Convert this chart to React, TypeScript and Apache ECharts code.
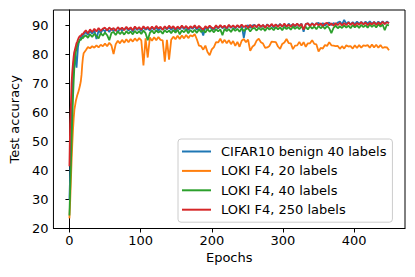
import React, { useEffect, useRef } from "react";
import * as echarts from "echarts";

const epochs = [
  0, 1, 2, 3, 4, 5, 6, 7, 8, 9, 10, 11, 12, 13, 14, 15, 16, 17, 18, 19, 20,
  23, 26, 29, 32, 35, 38, 41, 44, 47, 50,
  53, 56, 59, 62, 65, 68, 71, 74, 77, 80,
  83, 86, 89, 92, 95, 98, 101, 104, 107, 110,
  113, 116, 119, 122, 125, 128, 131, 134, 137, 140,
  143, 146, 149, 152, 155, 158, 161, 164, 167, 170,
  173, 176, 179, 182, 185, 188, 191, 194, 197, 200,
  203, 206, 209, 212, 215, 218, 221, 224, 227, 230,
  233, 236, 239, 242, 245, 248, 251, 254, 257, 260,
  263, 266, 269, 272, 275, 278, 281, 284, 287, 290,
  293, 296, 299, 302, 305, 308, 311, 314, 317, 320,
  323, 326, 329, 332, 335, 338, 341, 344, 347, 350,
  353, 356, 359, 362, 365, 368, 371, 374, 377, 380,
  383, 386, 389, 392, 395, 398, 401, 404, 407, 410,
  413, 416, 419, 422, 425, 428, 431, 434, 437, 440,
  443, 446, 449,
];

const cifarBenign40 = [
  30, 38, 47, 56, 64, 71, 77, 80.5, 81.5, 77, 75.5, 79, 82.5, 84, 84.8, 85.3, 85.8, 86.2, 86.0, 86.7, 87.0,
  87.8, 86.8, 88.2, 87.2, 88.5, 85.4, 88.3, 87.5, 88.7, 88.0,
  88.8, 87.8, 89.0, 88.1, 88.8, 87.6, 89.1, 88.2, 88.9, 89.2,
  88.3, 89.1, 88.0, 89.3, 88.5, 89.2, 88.1, 89.4, 88.6, 89.1,
  88.3, 89.4, 88.5, 89.5, 88.2, 89.3, 88.6, 89.6, 88.7, 89.4,
  88.5, 89.5, 88.3, 89.4, 88.7, 89.7, 88.8, 89.6, 88.4, 89.5,
  88.9, 89.8, 88.6, 89.6, 88.8, 86.6, 89.5, 88.7, 89.7, 88.9,
  88.7, 89.8, 89.0, 90.0, 89.1, 89.8, 88.8, 90.1, 89.2, 89.9,
  89.0, 90.0, 89.3, 90.2, 85.8, 89.8, 90.1, 89.2, 90.0, 90.3,
  89.4, 90.4, 89.5, 90.2, 89.3, 90.5, 89.6, 90.3, 89.4, 90.4,
  89.7, 90.6, 89.6, 90.4, 89.5, 90.7, 89.8, 90.5, 89.7, 90.6,
  89.8, 90.7, 87.9, 90.5, 90.8, 89.9, 90.9, 90.1, 90.7, 91.0,
  90.2, 90.9, 90.0, 90.8, 91.1, 90.2, 90.9, 90.3, 91.1, 91.4,
  90.4, 92.0, 90.6, 91.3, 90.4, 91.2, 90.5, 91.4, 90.6, 91.3,
  90.5, 91.4, 90.7, 91.5, 90.6, 91.3, 90.5, 91.4, 90.7, 91.5,
  90.6, 91.4, 90.9,
];

const loki20 = [
  23.5, 29, 36, 43, 49, 54, 58, 61, 62.5, 64, 65, 66, 66.7, 67.5, 68.5, 69.5, 70.8, 73, 76.5, 79, 80.5,
  81.5, 82.6, 82.2, 82.9, 82.4, 83.2, 82.5, 83.4, 82.9, 83.8,
  82.9, 84.1, 83.2, 80.2, 83.6, 84.8, 83.9, 85.1, 84.1, 85.3,
  84.3, 85.4, 84.5, 85.6, 84.7, 85.7, 84.9, 76.3, 85.6, 79.0,
  85.9, 84.8, 86.0, 85.0, 86.1, 85.1, 84.9, 77.6, 85.1, 78.3,
  85.1, 86.2, 85.3, 86.5, 85.4, 86.6, 85.6, 86.8, 85.7, 86.7,
  86.3, 87.1, 85.3, 83.1, 82.9, 81.7, 83.1, 80.9, 79.8, 81.8,
  82.6, 84.3, 84.2, 85.5, 84.0, 85.1, 83.9, 85.0, 83.6, 84.7,
  83.0, 84.4, 82.7, 84.8, 85.4, 84.3, 85.2, 81.3, 82.7, 83.3,
  84.8, 85.5, 84.3, 83.8, 82.3, 82.5, 83.0, 84.5, 84.4, 84.3,
  82.8, 82.0, 83.7, 84.2, 85.4, 84.0, 83.9, 81.9, 83.1, 83.2,
  84.4, 83.1, 84.3, 82.7, 83.9, 83.9, 85.0, 83.7, 83.5, 81.1,
  82.3, 82.1, 83.3, 83.0, 84.3, 83.2, 83.1, 82.9, 83.0, 82.0,
  82.9, 82.1, 83.2, 82.8, 82.9, 82.1, 83.2, 82.3, 83.3, 82.4,
  83.2, 83.0, 83.3, 82.4, 83.5, 82.5, 83.4, 82.4, 83.3, 82.3,
  82.6, 82.5, 81.5,
];

const loki40 = [
  24.5, 33, 41, 50, 58, 65, 71, 76, 79, 81, 82.3, 83.2, 84, 84.3, 84.8, 85.2, 85.0, 85.5, 85.9, 85.6, 86.1,
  86.7, 85.8, 87.0, 86.1, 87.2, 86.4, 85.6, 87.4, 86.5, 87.6,
  86.7, 85.0, 87.5, 87.8, 86.8, 88.0, 87.1, 87.9, 86.9, 88.1,
  87.2, 88.0, 87.0, 88.2, 87.3, 88.1, 87.1, 88.3, 87.4, 85.0,
  87.5, 88.3, 87.3, 88.4, 87.6, 88.2, 87.2, 88.5, 87.7, 88.3,
  87.4, 88.5, 87.6, 88.6, 87.0, 88.4, 87.7, 88.7, 87.4, 88.5,
  87.7, 88.6, 87.5, 88.7, 87.8, 88.5, 87.6, 88.8, 87.9, 88.6,
  87.7, 88.8, 88.0, 88.7, 86.7, 88.9, 88.1, 88.8, 87.8, 89.0,
  88.2, 88.9, 87.9, 89.1, 88.1, 88.8, 89.1, 88.0, 89.0, 89.2,
  88.3, 89.3, 88.5, 89.2, 88.2, 89.4, 88.6, 89.3, 88.4, 89.5,
  88.7, 89.4, 88.4, 89.6, 88.8, 89.5, 88.6, 89.7, 88.9, 89.6,
  88.8, 89.7, 88.9, 89.6, 88.7, 89.8, 89.0, 89.7, 88.8, 89.9,
  89.1, 89.8, 88.9, 89.9, 89.1, 87.4, 89.2, 90.0, 89.1, 89.8,
  89.2, 90.1, 89.3, 90.0, 89.1, 90.2, 89.4, 90.1, 89.2, 90.3,
  89.5, 90.2, 89.3, 90.4, 89.6, 90.3, 89.4, 90.5, 89.7, 90.4,
  88.4, 90.3, 90.1,
];

const loki250 = [
  41.5, 56, 62, 70, 74, 77, 79.5, 81, 82, 83, 84, 84.5, 85.2, 85.8, 86.2, 86.5, 86.3, 86.9, 87.2, 87.0, 87.5,
  88.4, 87.4, 88.7, 87.8, 88.9, 88.0, 89.2, 88.2, 89.0, 89.3,
  88.3, 89.4, 88.5, 89.2, 88.2, 89.5, 88.6, 89.3, 88.4, 89.6,
  88.7, 89.4, 88.4, 89.7, 88.8, 89.5, 88.6, 89.8, 88.9, 89.6,
  88.7, 89.7, 88.8, 89.9, 89.0, 89.6, 88.6, 89.8, 88.9, 90.0,
  89.1, 89.8, 88.8, 89.7, 89.0, 90.0, 89.1, 89.9, 88.9, 89.8,
  89.2, 90.1, 89.0, 89.9, 89.2, 88.7, 89.8, 89.1, 90.0, 89.3,
  89.0, 90.1, 89.2, 90.2, 89.3, 90.0, 89.1, 90.3, 89.4, 90.1,
  89.3, 90.2, 89.4, 90.4, 89.5, 90.1, 89.2, 90.3, 89.4, 90.2,
  89.5, 90.5, 89.6, 90.3, 89.3, 90.4, 89.6, 90.6, 89.7, 90.4,
  89.6, 90.5, 89.7, 90.7, 89.7, 90.4, 89.6, 90.6, 89.9, 90.7,
  89.8, 90.6, 88.6, 90.5, 90.8, 89.9, 90.7, 90.0, 90.9, 90.1,
  90.8, 89.9, 90.7, 91.0, 90.1, 90.8, 90.0, 90.9, 90.2, 91.0,
  90.1, 90.9, 90.2, 91.1, 90.3, 91.0, 90.1, 90.9, 90.3, 91.2,
  90.4, 91.1, 90.2, 91.0, 90.4, 91.2, 90.3, 91.1, 90.4, 91.3,
  90.5, 91.2, 90.8,
];

const seriesNames = [
  "CIFAR10 benign 40 labels",
  "LOKI F4, 20 labels",
  "LOKI F4, 40 labels",
  "LOKI F4, 250 labels",
];
const seriesValues = [cifarBenign40, loki20, loki40, loki250];
const seriesColors = ["#1f77b4", "#ff7f0e", "#2ca02c", "#d62728"];
const xTicks = [0, 100, 200, 300, 400];
const yTicks = [20, 30, 40, 50, 60, 70, 80, 90];

const FONT = "DejaVu Sans";

export default function App() {
  const ref = useRef<HTMLDivElement>(null);
  useEffect(() => {
    if (!ref.current) return;
    const chart = echarts.init(ref.current, null, { renderer: "svg" });
    chart.setOption({
      animation: false,
      backgroundColor: "#ffffff",
      textStyle: { fontFamily: FONT },
      grid: {
        left: 51,
        top: 10,
        width: 354,
        height: 218.5,
        show: true,
        borderColor: "#000",
        borderWidth: 1,
        backgroundColor: "transparent",
      },
      xAxis: {
        type: "value",
        min: -22.45,
        max: 471.45,
        name: "Epochs",
        nameLocation: "middle",
        nameGap: 22,
        nameTextStyle: { fontSize: 13, color: "#000", fontFamily: FONT },
        axisLine: { show: true, lineStyle: { color: "#000", width: 1 } },
        axisTick: {
          show: true,
          length: 4,
          inside: false,
          customValues: xTicks,
          lineStyle: { color: "#000", width: 1 },
        },
        axisLabel: {
          customValues: xTicks,
          margin: 5,
          fontSize: 13,
          color: "#000",
          fontFamily: FONT,
        },
        splitLine: { show: false },
      },
      yAxis: {
        type: "value",
        min: 20,
        max: 95.4,
        name: "Test accuracy",
        nameLocation: "middle",
        nameGap: 26,
        nameTextStyle: { fontSize: 13, color: "#000", fontFamily: FONT },
        axisLine: { show: true, lineStyle: { color: "#000", width: 1 } },
        axisTick: {
          show: true,
          length: 4,
          inside: false,
          customValues: yTicks,
          lineStyle: { color: "#000", width: 1 },
        },
        axisLabel: {
          customValues: yTicks,
          margin: 5,
          fontSize: 13,
          color: "#000",
          fontFamily: FONT,
        },
        splitLine: { show: false },
      },
      legend: {
        orient: "vertical",
        left: 178,
        top: 139,
        data: seriesNames,
        icon: "rect",
        itemWidth: 29,
        itemHeight: 2,
        itemGap: 4.4,
        padding: [5, 6, 5, 4],
        backgroundColor: "rgba(255,255,255,0.8)",
        borderColor: "#cccccc",
        borderWidth: 1,
        borderRadius: 3,
        textStyle: {
          fontSize: 13,
          lineHeight: 15,
          color: "#000",
          fontFamily: FONT,
          padding: [0, 0, 0, 5],
        },
      },
      series: seriesNames.map((name, si) => ({
        name,
        type: "line",
        data: epochs.map((e, i) => [e, seriesValues[si][i]]),
        showSymbol: false,
        symbol: "none",
        lineStyle: { color: seriesColors[si], width: 1.8 },
        itemStyle: { color: seriesColors[si] },
        emphasis: { disabled: true },
      })),
    });
    return () => chart.dispose();
  }, []);
  return (
    <div
      ref={ref}
      style={{ position: "fixed", left: 0, top: 0, width: 415, height: 277 }}
    />
  );
}
